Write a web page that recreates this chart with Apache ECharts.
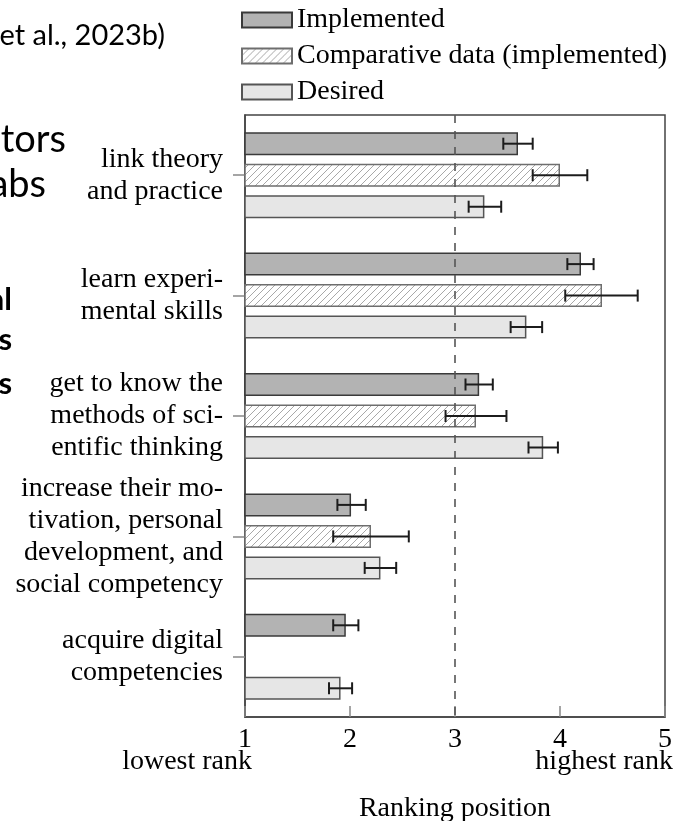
<!DOCTYPE html>
<html><head><meta charset="utf-8">
<script src="https://cdn.jsdelivr.net/npm/echarts@6/dist/echarts.min.js"></script>
<style>html,body{margin:0;padding:0;background:#fff}#c{width:677px;height:821px}</style>
</head><body><div id="c"></div>
<script>
// ---- data ----
const categories = [
  'link theory\nand practice',
  'learn experi-\nmental skills',
  'get to know the\nmethods of sci-\nentific thinking',
  'increase their mo-\ntivation, personal\ndevelopment, and\nsocial competency',
  'acquire digital\ncompetencies'
];
const seriesNames = ['Implemented', 'Comparative data (implemented)', 'Desired'];
const implemented     = [3.60, 4.20, 3.23, 2.01, 1.96];
const implementedLow  = [3.46, 4.07, 3.10, 1.88, 1.84];
const implementedHigh = [3.74, 4.32, 3.36, 2.15, 2.08];
const comparative     = [4.00, 4.40, 3.20, 2.20, null];
const comparativeLow  = [3.74, 4.05, 2.91, 1.84, null];
const comparativeHigh = [4.26, 4.74, 3.49, 2.56, null];
const desired         = [3.28, 3.68, 3.84, 2.29, 1.91];
const desiredLow      = [3.13, 3.53, 3.70, 2.14, 1.80];
const desiredHigh     = [3.44, 3.83, 3.98, 2.44, 2.02];
const xTicks = [1, 2, 3, 4, 5];
const referenceValue = 3;
const axisTitle = 'Ranking position';
const lowEndLabel = 'lowest rank';
const highEndLabel = 'highest rank';
const sideFragments = [
  {text: 'et al., 2023b)', x: 165, y: 36, size: 29, bold: false},
  {text: 'tors', x: 66, y: 140, size: 38, bold: false},
  {text: 'abs', x: 46, y: 185, size: 38, bold: false},
  {text: 'al', x: 12, y: 300, size: 31, bold: true},
  {text: 's', x: 12, y: 340, size: 31, bold: true},
  {text: 's', x: 12, y: 384, size: 31, bold: true}
];

// ---- styling ----
const SERIF = '"Liberation Serif", "Times New Roman", serif';
const BAR_W = 23, GAP = 8.5;
const STEP = BAR_W + GAP;

function hatch() {
  const s = 7;
  const cv = document.createElement('canvas');
  cv.width = s; cv.height = s;
  const ctx = cv.getContext('2d');
  ctx.fillStyle = '#ffffff';
  ctx.fillRect(0, 0, s, s);
  ctx.strokeStyle = '#a8a8a8';
  ctx.lineWidth = 1;
  ctx.beginPath();
  ctx.moveTo(0, s); ctx.lineTo(s, 0);
  ctx.moveTo(-1, 1); ctx.lineTo(1, -1);
  ctx.moveTo(s - 1, s + 1); ctx.lineTo(s + 1, s - 1);
  ctx.stroke();
  return {image: cv, repeat: 'repeat'};
}
const hatchFill = hatch();

const fills = ['#b3b3b3', hatchFill, '#e6e6e6'];
const borders = ['#3a3a3a', '#6e6e6e', '#555555'];
const values = [implemented, comparative, desired];
const lows = [implementedLow, comparativeLow, desiredLow];
const highs = [implementedHigh, comparativeHigh, desiredHigh];

const barSeries = values.map((v, k) => ({
  name: seriesNames[k],
  type: 'bar',
  data: v,
  barWidth: BAR_W,
  barGap: (GAP / BAR_W * 100).toFixed(1) + '%',
  itemStyle: {color: fills[k], borderColor: borders[k], borderWidth: 1.5},
  emphasis: {disabled: true},
  z: 2,
  markLine: k === 0 ? {
    silent: true, symbol: 'none', label: {show: false},
    lineStyle: {color: '#555', width: 1.6, type: [8, 8]},
    data: [{xAxis: referenceValue}], z: 5
  } : undefined
}));

const errSeries = values.map((v, k) => ({
  name: seriesNames[k] + ' err',
  type: 'custom',
  z: 6,
  clip: false,
  encode: {x: [1, 2], y: 0},
  data: categories.map((c, i) => lows[k][i] == null ? null : [i, lows[k][i], highs[k][i]]).filter(d => d),
  renderItem: function (params, api) {
    const cat = api.value(0);
    const p1 = api.coord([api.value(1), cat]);
    const p2 = api.coord([api.value(2), cat]);
    const off = (k - 1) * STEP;
    const y = p1[1] + off;
    const h = 6;
    const st = {stroke: '#1c1c1c', lineWidth: 2};
    return {type: 'group', children: [
      {type: 'line', shape: {x1: p1[0], y1: y, x2: p2[0], y2: y}, style: st},
      {type: 'line', shape: {x1: p1[0], y1: y - h, x2: p1[0], y2: y + h}, style: st},
      {type: 'line', shape: {x1: p2[0], y1: y - h, x2: p2[0], y2: y + h}, style: st}
    ]};
  }
}));

const chart = echarts.init(document.getElementById('c'), null, {renderer: 'canvas'});
const option = {
  animation: false,
  backgroundColor: '#fff',
  textStyle: {fontFamily: SERIF},
  legend: {
    data: seriesNames,
    orient: 'vertical',
    left: 236, top: 0,
    itemWidth: 50, itemHeight: 15, itemGap: 6,
    icon: 'rect',
    selectedMode: false,
    textStyle: {fontFamily: SERIF, fontSize: 28, color: '#000', lineHeight: 30}
  },
  grid: {left: 245, right: 12, top: 115, bottom: 104, show: true, borderColor: '#444', borderWidth: 1.5,
         containLabel: false, outerBoundsMode: 'none'},
  xAxis: {
    type: 'value', min: xTicks[0], max: xTicks[xTicks.length - 1], interval: 1,
    name: axisTitle, nameLocation: 'middle', nameGap: 78,
    nameTextStyle: {fontFamily: SERIF, fontSize: 28, color: '#000'},
    axisLine: {show: true, lineStyle: {color: '#444', width: 1.5}},
    axisTick: {show: true, inside: true, length: 11, lineStyle: {color: '#888', width: 1.5}},
    splitLine: {show: false},
    axisLabel: {fontFamily: SERIF, fontSize: 28, color: '#000', margin: 9}
  },
  yAxis: {
    type: 'category', data: categories, inverse: true,
    axisLine: {show: true, lineStyle: {color: '#444', width: 1.5}},
    axisTick: {show: true, alignWithLabel: true, length: 12, lineStyle: {color: '#888', width: 1.5}},
    axisLabel: {fontFamily: SERIF, fontSize: 28, color: '#000', lineHeight: 32, margin: 22, align: 'right'}
  },
  series: barSeries.concat(errSeries)
};
chart.setOption(option);

const x1 = chart.convertToPixel({xAxisIndex: 0}, xTicks[0]);
const x5 = chart.convertToPixel({xAxisIndex: 0}, xTicks[xTicks.length - 1]);
const graphics = [
  {type: 'text', x: x1 + 7, y: 762, style: {text: lowEndLabel, font: '28px ' + SERIF, fill: '#000', textAlign: 'right', textVerticalAlign: 'middle'}},
  {type: 'text', x: x5 + 8, y: 762, style: {text: highEndLabel, font: '28px ' + SERIF, fill: '#000', textAlign: 'right', textVerticalAlign: 'middle'}}
].concat(sideFragments.map(f => ({
  type: 'text', x: f.x, y: f.y,
  style: {text: f.text, font: (f.bold ? 'bold ' : '') + f.size + 'px Lato, "Open Sans", sans-serif', fill: '#000', textAlign: 'right', textVerticalAlign: 'middle'}
})));
chart.setOption({graphic: graphics});
</script>
</body></html>
